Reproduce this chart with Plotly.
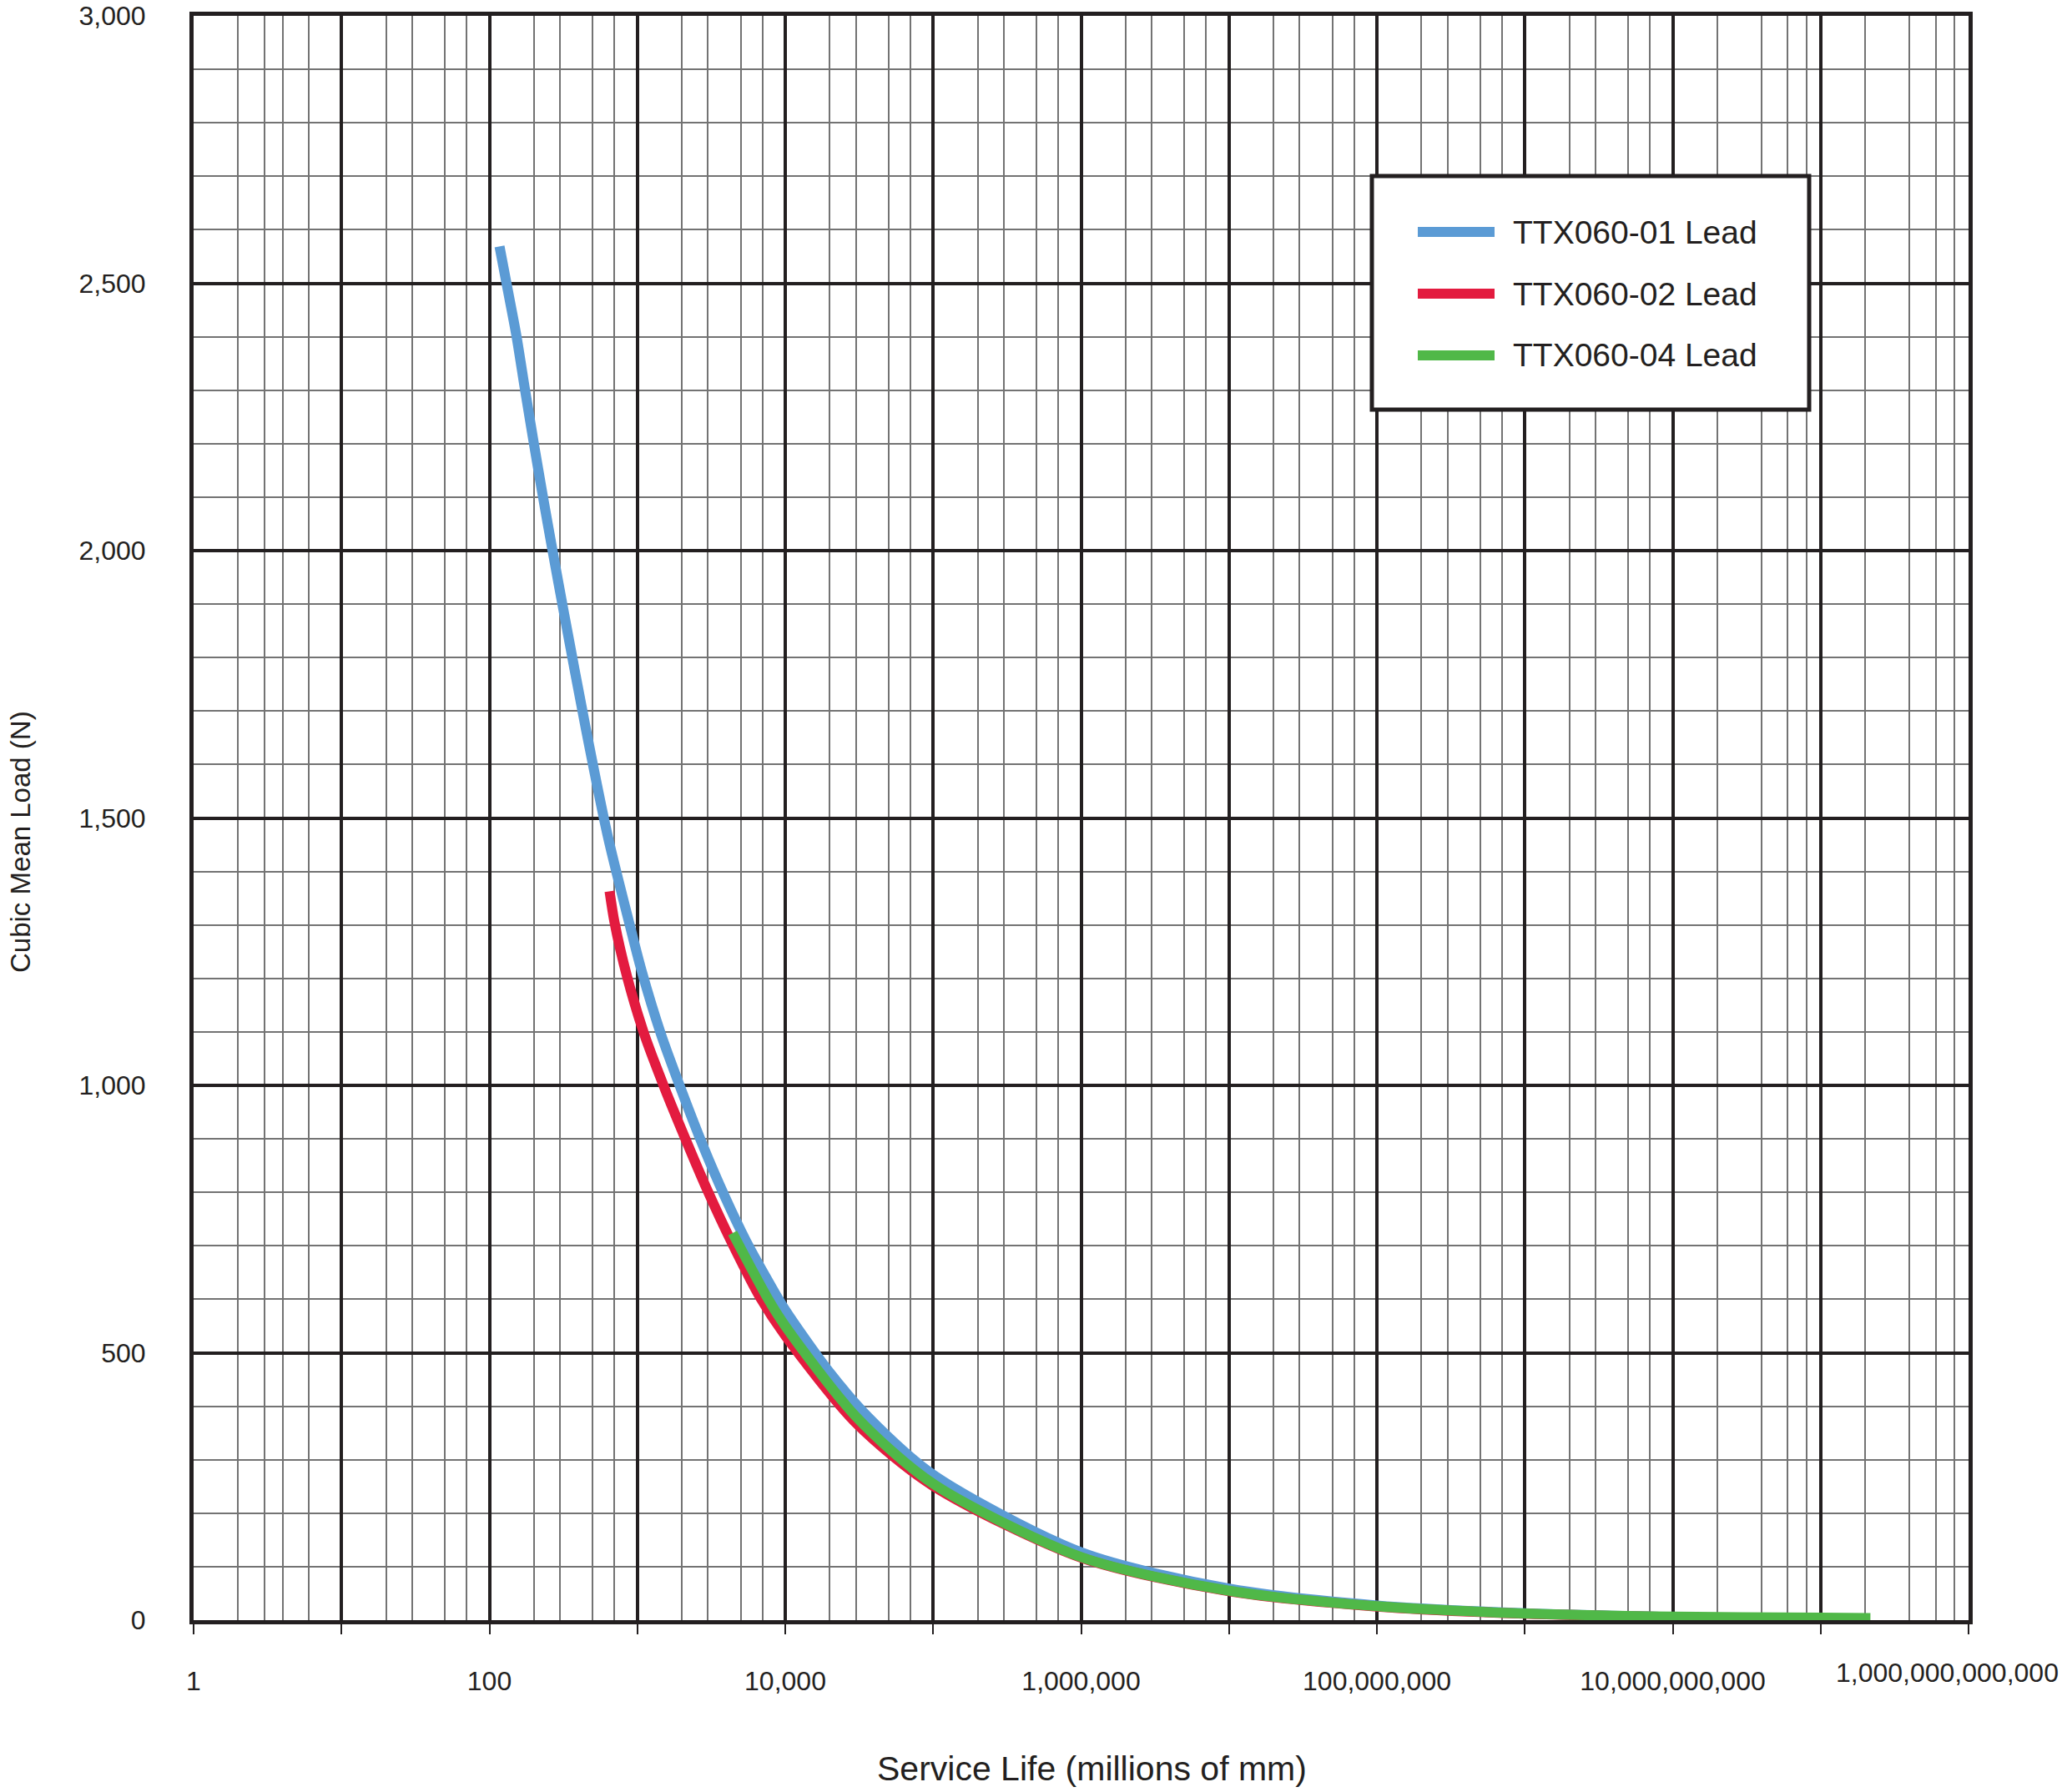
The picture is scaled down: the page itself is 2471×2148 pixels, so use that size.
import plotly.graph_objects as go

# ---- data (service life in millions of mm, load in N) ----
blue_life = [117, 130, 152, 174, 199, 229, 266, 316, 450, 631, 870, 1067, 1432, 2023, 2799,
             3864, 5458, 7889, 10000, 20000, 36300, 100000, 1e6, 1e7, 1e8, 1e9, 1e10]
blue_load = [2569, 2502, 2403, 2301, 2203, 2104, 2003, 1890, 1665, 1466, 1310, 1215, 1099, 985, 885,
             795, 708, 628, 580, 463, 380, 272, 127, 59, 27.5, 13, 6]

red_life = [649, 701, 853, 1104, 1528, 2113, 2985, 4406, 6776, 1e4, 3e4, 1e5, 1e6, 1e7, 1e8, 1e9, 1e10]
red_load = [1363, 1305, 1203, 1099, 995, 900, 803, 703, 603, 532, 369, 251, 117, 54, 25.5, 12, 5.6]

green_life = [4406, 7709, 1e4, 3e4, 1e5, 1e6, 1e7, 1e8, 1e9, 1e10, 1e11, 2.17e11]
green_load = [724, 599, 550, 381, 255, 118, 55, 26, 12.5, 6.5, 4.5, 4]

series_names = ["TTX060-01 Lead", "TTX060-02 Lead", "TTX060-04 Lead"]
series_colors = ["#5b9bd5", "#e31b3f", "#50b848"]

x_tick_vals = [10 ** k for k in range(13)]
x_tick_text = ["1", "", "100", "", "10,000", "", "1,000,000", "", "100,000,000", "",
               "10,000,000,000", "", ""]
last_tick_label = "1,000,000,000,000"

# minor grid positions within each decade (as printed on the chart paper)
minor_vals = []
for k in range(12):
    if k == 0:
        mults = [2, 3, 4, 6]
    elif k <= 9:
        mults = [2, 3, 5, 7]
    else:
        mults = [2, 4, 6, 8]
    minor_vals += [m * 10 ** k for m in mults]

FONT = "Liberation Sans, Arial, sans-serif"
TXT = "#231f20"
W, H = 2471, 2148
L, T = 232, 19
PW, PH = 2127, 1923
R, B = W - L - PW, H - T - PH


def px_x(p):                  # page pixel -> paper x
    return (p - L) / PW


def px_y(p):                  # page pixel -> paper y
    return (T + PH - p) / PH


fig = go.Figure()
for lx, ly, name, col in [(blue_life, blue_load, series_names[0], series_colors[0]),
                          (red_life, red_load, series_names[1], series_colors[1]),
                          (green_life, green_load, series_names[2], series_colors[2])]:
    fig.add_trace(go.Scatter(x=lx, y=ly, mode="lines", name=name, showlegend=False,
                             line=dict(color=col, width=12, shape="spline", smoothing=0.8)))

fig.update_xaxes(type="log", range=[0, 12], tickmode="array", tickvals=x_tick_vals,
                 ticktext=x_tick_text, showgrid=True, gridcolor=TXT, gridwidth=4,
                 showline=True, mirror=True, linecolor=TXT, linewidth=5,
                 ticks="outside", ticklen=12, tickwidth=2, tickcolor=TXT,
                 ticklabelstandoff=29, automargin=False, ticklabeloverflow="allow",
                 tickfont=dict(family=FONT, size=32, color=TXT), zeroline=False,
                 minor=dict(tickmode="array", tickvals=minor_vals, showgrid=True,
                            gridcolor="#737373", gridwidth=2, ticks=""))
fig.update_yaxes(range=[0, 3000], tickmode="linear", tick0=0, dtick=500, tickformat=",",
                 showgrid=True, gridcolor=TXT, gridwidth=4,
                 showline=True, mirror=True, linecolor=TXT, linewidth=5,
                 ticks="", ticklabelstandoff=46, zeroline=False, automargin=False,
                 ticklabeloverflow="allow",
                 tickfont=dict(family=FONT, size=32, color=TXT),
                 minor=dict(dtick=100, showgrid=True, gridcolor="#737373", gridwidth=2, ticks=""))

shapes = []
annotations = []
# legend box
shapes.append(dict(type="rect", xref="paper", yref="paper", x0=px_x(1644), x1=px_x(2168),
                   y0=px_y(491), y1=px_y(211), fillcolor="white",
                   line=dict(color=TXT, width=5), layer="above"))
for i, (name, col) in enumerate(zip(series_names, series_colors)):
    yy = px_y(278 + 74 * i)
    shapes.append(dict(type="line", xref="paper", yref="paper", x0=px_x(1699), x1=px_x(1791),
                       y0=yy, y1=yy, line=dict(color=col, width=12), layer="above"))
    annotations.append(dict(xref="paper", yref="paper", x=px_x(1811), y=yy, text=name,
                            showarrow=False, xanchor="left", yanchor="middle",
                            font=dict(family=FONT, size=39, color=TXT)))

annotations.append(dict(xref="paper", yref="paper", x=px_x(2469), y=px_y(2005),
                        text=last_tick_label, showarrow=False, xanchor="right", yanchor="middle",
                        font=dict(family=FONT, size=32, color=TXT)))
annotations.append(dict(xref="paper", yref="paper", x=px_x(1308), y=px_y(2120),
                        text="Service Life (millions of mm)", showarrow=False,
                        xanchor="center", yanchor="middle",
                        font=dict(family=FONT, size=41, color=TXT)))
annotations.append(dict(xref="paper", yref="paper", x=px_x(24), y=px_y(1009),
                        text="Cubic Mean Load (N)", showarrow=False, textangle=-90,
                        xanchor="center", yanchor="middle",
                        font=dict(family=FONT, size=33, color=TXT)))

fig.update_layout(width=W, height=H, margin=dict(l=L, r=R, t=T, b=B, pad=0),
                  paper_bgcolor="white", plot_bgcolor="white",
                  shapes=shapes, annotations=annotations, showlegend=False)

fig.write_html("out.html", config={"displayModeBar": False},
               post_script="document.body.style.margin='0px';")
